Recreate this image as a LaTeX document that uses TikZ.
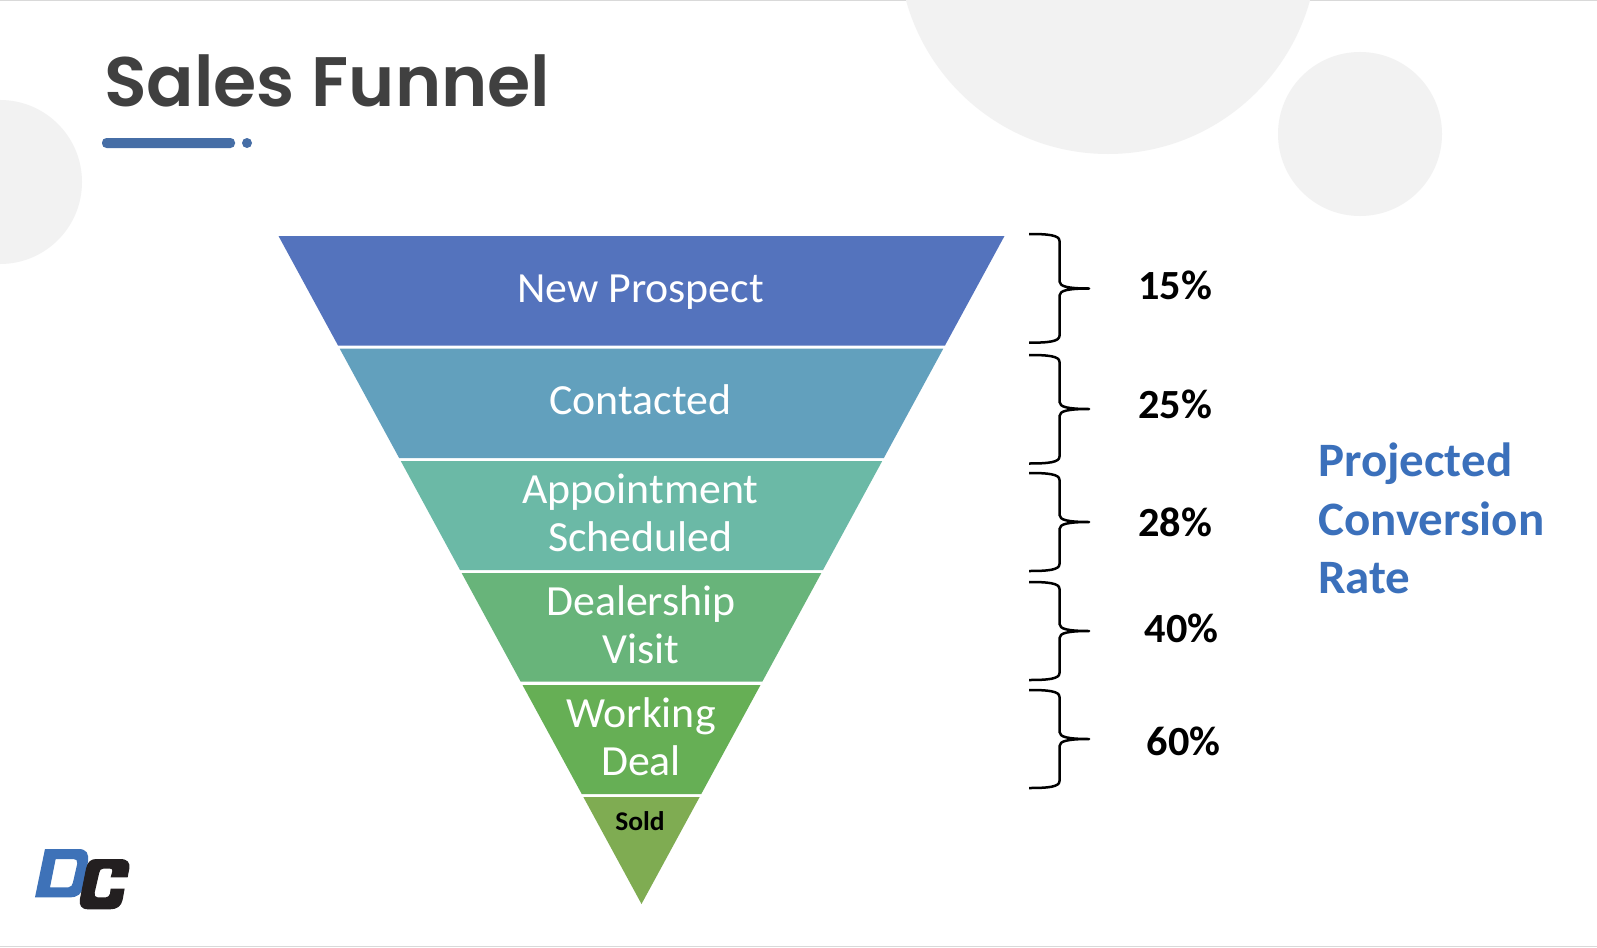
\documentclass[tikz,border=0pt]{standalone}
\usepackage{fontspec}
\setmainfont{Carlito}[FakeStretch=1.02]
\newfontfamily\titlefont{Poppins SemiBold}
\definecolor{bandA}{HTML}{5473BD}
\definecolor{bandB}{HTML}{62A0BD}
\definecolor{bandC}{HTML}{6BB9A6}
\definecolor{bandD}{HTML}{68B47A}
\definecolor{bandE}{HTML}{66AF55}
\definecolor{bandF}{HTML}{7FAC52}
\definecolor{softgrey}{HTML}{F2F2F2}
\definecolor{edgegrey}{HTML}{D9D9D9}
\definecolor{titlegrey}{HTML}{404040}
\definecolor{barblue}{HTML}{466EA6}
\definecolor{rateblue}{HTML}{3B70BB}
\definecolor{logoblue}{HTML}{3E72B8}
\definecolor{logoblack}{HTML}{231F20}
\tikzset{
  bandlabel/.style={text=white,inner sep=0pt,align=center,font=\fontsize{43}{48}\selectfont},
  pct/.style={text=black,inner sep=0pt,anchor=base,font=\fontsize{41.5}{48}\selectfont\bfseries},
  bracket/.style={draw=black,line width=2.5pt,line join=round},
  rate/.style={text=rateblue,inner sep=0pt,anchor=base west,font=\fontsize{48}{58}\selectfont\bfseries},
}
\newcommand{\funnelband}[3]{% top, bottom, colour
  \fill[#3] ({641.5-(904-#1)*0.5434},#1) -- ({641.5+(904-#1)*0.5434},#1) -- ({641.5+(904-#2)*0.5434},#2) -- ({641.5-(904-#2)*0.5434},#2) -- cycle;}
\newcommand{\sidebracket}[3]{% top, tip, bottom
  \draw[bracket] (1029,#1) .. controls (1048,#1) and (1059.5,{#1+1}) .. (1059.5,{#1+7})
    -- (1059.5,{#2-7}) .. controls (1059.5,{#2-2}) and (1068,#2) .. (1089,#2)
    .. controls (1068,#2) and (1059.5,{#2+2}) .. (1059.5,{#2+7})
    -- (1059.5,{#3-7}) .. controls (1059.5,{#3-1}) and (1048,#3) .. (1029,#3);}
\begin{document}
\begin{tikzpicture}[x=1pt,y=-1pt]
\useasboundingbox (0,0) rectangle (1597,947);
\fill[white] (0,0) rectangle (1597,947);
\fill[edgegrey] (0,0) rectangle (1597,1.2);
\fill[edgegrey] (0,945.5) rectangle (1597,947);
\fill[softgrey] (1108,-55.5) circle[radius=209.5];
\fill[softgrey] (1360,134) circle[radius=82];
\fill[softgrey] (0,182) circle[radius=82];
\node[anchor=base west,inner sep=0pt,text=titlegrey,font=\fontsize{70}{80}\selectfont\titlefont] (title) at (104,107) {Sales Funnel};
\fill[barblue,rounded corners=4.5pt] (102,138) rectangle (235,148);
\fill[barblue] (247,143) circle[radius=5];
\funnelband{236}{345.5}{bandA}
\funnelband{348.5}{458}{bandB}
\funnelband{461}{570}{bandC}
\funnelband{573}{681.7}{bandD}
\funnelband{685}{794}{bandE}
\fill[bandF] ({641.5-(904-797)*0.5434},797) -- ({641.5+(904-797)*0.5434},797) -- (641.5,904) -- cycle;
\node[bandlabel,anchor=base] (prospect) at (640.5,302.5) {New Prospect};
\node[bandlabel,anchor=base] (contacted) at (640.3,414.5) {Contacted};
\node[bandlabel,anchor=base] (appt) at (640.3,551.7) {Appointment\\Scheduled};
\node[bandlabel,anchor=base] (visit) at (641,663.7) {Dealership\\Visit};
\node[bandlabel,anchor=base] (deal) at (641,775.8) {Working\\Deal};
\node[inner sep=0pt,anchor=base,text=black,font=\fontsize{27}{32}\selectfont\bfseries] (sold) at (640,830) {Sold};
\sidebracket{234}{288.5}{342.7}
\sidebracket{355}{409}{463.5}
\sidebracket{473}{522}{571}
\sidebracket{582}{631}{680}
\sidebracket{690}{739}{788}
\node[pct] (p15) at (1175,299.5) {15\%};
\node[pct] (p25) at (1175,418.5) {25\%};
\node[pct] (p28) at (1175,536.2) {28\%};
\node[pct] (p40) at (1181.5,642.7) {40\%};
\node[pct] (p60) at (1183.5,755) {60\%};
\node[rate] (r1) at (1318,476.7) {Projected};
\node[rate] (r2) at (1318,535.5) {Conversion};
\node[rate] (r3) at (1318,593.7) {Rate};
\begin{scope}[shift={(20,835)},x=0.3333pt,y=-0.3333pt]
\fill[logoblue,even odd rule] (75,42) -- (175,42) .. controls (200,42) and (207,55) .. (204,80) -- (192,150) .. controls (186,178) and (172,187) .. (150,187) -- (45,187) -- cycle
  (107,72) -- (90,157) -- (145,157) .. controls (154,157) and (157,150) .. (159,142) -- (172,85) .. controls (173,76) and (168,72) .. (160,72) -- cycle;
\end{scope}
\begin{scope}[shift={(20,834)},x=0.3333pt,y=-0.3206pt]
\fill[logoblack] (228,78) -- (300,78) .. controls (322,78) and (331,88) .. (328,108) -- (323,135) -- (272,135) -- (277,116) .. controls (279,111) and (275,108) .. (270,108) -- (250,108) .. controls (242,108) and (240,113) .. (238,120) -- (224,183) .. controls (222,192) and (226,198) .. (234,198) -- (256,198) .. controls (264,198) and (268,193) .. (270,186) -- (272,170) -- (314,170) -- (308,205) .. controls (304,226) and (290,235) .. (270,235) -- (205,235) .. controls (184,235) and (176,222) .. (180,202) -- (198,108) .. controls (202,88) and (212,78) .. (228,78) -- cycle;
\end{scope}
\end{tikzpicture}
\end{document}
